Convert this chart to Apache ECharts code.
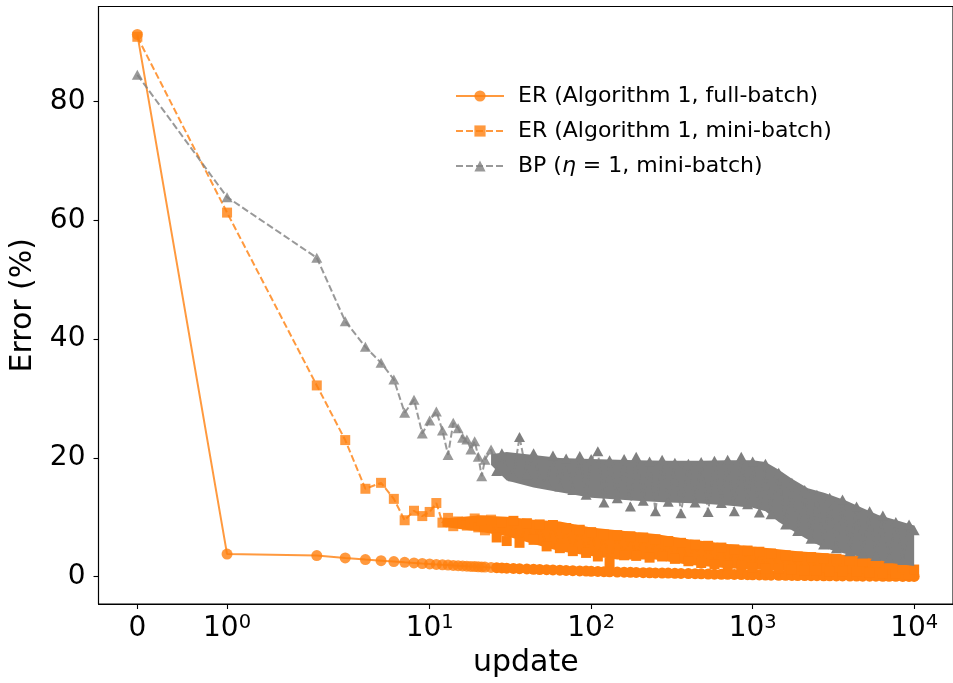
<!DOCTYPE html>
<html><head><meta charset="utf-8">
<script src="https://cdn.jsdelivr.net/npm/echarts@6/dist/echarts.min.js"></script>
<style>html,body{margin:0;padding:0;background:#fff}#c{width:953px;height:683px}</style>
</head><body><div id="c"></div>
<script>
// x values (update number), shared by the three series
const updates = [0,1,2,3,4,5,6,7,8,9,10,11,12,13,14,15,16,17,18,19,20,21,22,
  24,26,28,30,33,36,40,44,48,53,58,64,70,77,85,93,
  100,110,120,130,145,160,175,190,210,230,250,275,300,330,360,400,440,480,530,580,640,700,770,850,930,
  1000,1100,1200,1300,1450,1600,1750,1900,2100,2300,2500,2750,3000,3300,3600,4000,4400,4800,5300,5800,6400,7000,7700,8500,9300,
  10000];

const erFull = [91.3,3.8,3.55,3.15,2.88,2.7,2.55,2.42,2.32,2.22,2.14,2.07,2.0,1.95,1.9,1.85,1.81,1.77,1.73,1.7,1.67,1.64,1.61,
  1.56,1.52,1.48,1.44,1.39,1.35,1.3,1.25,1.21,1.17,1.13,1.09,1.05,1.01,0.97,0.94,
  0.91,0.88,0.85,0.82,0.79,0.76,0.73,0.71,0.68,0.66,0.64,0.62,0.6,0.57,0.55,0.52,0.5,0.48,0.45,0.43,0.41,0.39,0.37,0.35,0.33,
  0.31,0.29,0.28,0.26,0.24,0.23,0.21,0.2,0.18,0.17,0.16,0.15,0.14,0.13,0.12,0.11,0.1,0.09,0.08,0.08,0.07,0.06,0.06,0.05,0.05,
  0.04];

const erMini = [90.9,61.3,32.2,23.0,14.8,15.8,13.1,9.5,11.1,10.2,10.9,12.4,9.1,9.9,8.5,9.3,9.1,8.6,9.0,9.8,8.3,9.5,7.8,
  9.6,6.6,9.2,6.0,9.4,5.7,9.0,6.2,8.8,5.1,8.7,4.8,8.2,4.3,7.9,4.0,
  7.5,3.4,7.1,2.3,7.0,3.6,6.8,3.5,6.6,3.2,6.3,3.4,6.0,3.0,5.7,2.6,5.4,2.3,5.2,2.1,4.9,1.9,4.6,1.8,4.4,
  1.5,4.2,1.4,3.9,1.3,3.6,1.2,3.4,1.1,3.3,1.0,3.1,0.9,3.0,0.9,2.8,0.8,2.6,0.7,2.4,0.6,2.1,0.5,1.6,0.4,
  1.2];

const bpMini = [84.5,63.9,53.7,43.0,38.7,36.0,33.2,27.6,29.8,24.1,26.3,27.8,24.6,20.5,25.9,25.0,23.4,23.1,21.4,22.8,20.2,16.9,19.7,
  21.4,17.8,20.8,18.0,16.9,23.5,17.2,20.8,16.4,15.9,20.4,15.2,19.9,14.6,20.3,13.8,
  19.8,21.1,12.5,19.6,13.2,19.8,11.8,20.2,12.8,19.4,11.0,19.7,12.6,19.2,10.7,19.0,12.5,19.3,10.9,19.5,12.4,19.7,11.0,20.2,12.2,
  19.4,10.8,19.0,10.5,17.5,8.8,15.8,7.7,14.6,6.4,13.8,5.4,13.3,4.8,13.0,4.3,11.8,3.9,11.0,3.5,10.3,3.1,9.2,2.8,8.8,
  7.8];

// dense regions: outer envelope of the crowded markers
const miniBandX   = [12, 20, 30, 44, 64, 100, 145, 250, 400, 700, 1000, 1900, 3000, 4800, 7000, 10000];
const miniBandTop = [9.8, 10.3, 10.1, 9.6, 9.3, 8.3, 7.8, 7.2, 6.3, 5.5, 5.1, 4.3, 3.9, 3.4, 2.8, 2.0];
const miniBandBot = [8.4, 7.6, 6.8, 5.5, 4.3, 3.5, 2.9, 2.9, 2.0, 1.4, 1.2, 0.9, 0.7, 0.5, 0.4, 0.3];

const bpBandX   = [24, 30, 44, 64, 100, 190, 300, 480, 700, 1000, 1200, 1450, 1750, 2200, 2800, 3800, 4750, 6000, 7600, 10000];
const bpBandTop = [20.6, 21.0, 20.5, 20.0, 19.8, 19.6, 19.5, 19.5, 19.6, 19.6, 19.3, 18.0, 16.5, 14.9, 14.1, 12.8, 11.6, 10.4, 9.6, 8.6];
const bpBandBot = [18.8, 16.2, 15.0, 14.2, 13.3, 12.8, 12.5, 12.3, 12.0, 11.6, 11.0, 9.2, 7.8, 6.2, 4.8, 3.8, 3.3, 2.8, 2.2, 1.8];

const tickUpdates = [0, 1, 10, 100, 1000, 10000];
const tickBase = ['0', '10', '10', '10', '10', '10'];
const tickExp  = ['', '0', '1', '2', '3', '4'];
const yTicks = [0, 20, 40, 60, 80];

const nameFull = 'ER (Algorithm 1, full-batch)';
const nameMini = 'ER (Algorithm 1, mini-batch)';
const nameBP = 'BP (η = 1, mini-batch)';

// symmetric log transform (linthresh 2, linscale 1, base 10)
const LINTHRESH = 2, LINSCALE_ADJ = 1 / (1 - 1 / 10);
function symlog(x) {
  return x < LINTHRESH ? x * LINSCALE_ADJ / LINTHRESH : LINSCALE_ADJ + Math.log10(x / LINTHRESH);
}
const tickPos = tickUpdates.map(symlog);
const xMaxD = symlog(updates[updates.length - 1]);
const xPad = 0.05 * xMaxD;

// dense part of the run (overlapping markers look fully saturated)
const DENSE_FROM = 25;
function pairs(ys) {
  return updates.map((u, i) => u >= DENSE_FROM
    ? { value: [symlog(u), ys[i]], itemStyle: { opacity: 1 } }
    : { value: [symlog(u), ys[i]] });
}

function bandSeries(bx, top, bot, color, z) {
  return {
    type: 'custom', z: z, silent: true,
    data: bx.map((x, i) => [symlog(x), top[i], bot[i]]),
    encode: { x: 0, y: 1 },
    renderItem: function (params, api) {
      if (params.dataIndex !== 0) return null;
      const pts = [];
      for (let i = 0; i < bx.length; i++) pts.push(api.coord([symlog(bx[i]), top[i]]));
      for (let i = bx.length - 1; i >= 0; i--) pts.push(api.coord([symlog(bx[i]), bot[i]]));
      return { type: 'polygon', shape: { points: pts }, style: { fill: color } };
    }
  };
}

const FONT = 'DejaVu Sans';
const chart = echarts.init(document.getElementById('c'));
chart.setOption({
  animation: false,
  backgroundColor: '#fff',
  grid: { left: 98.5, right: -5, top: 6.5, bottom: 78.7, show: true, borderColor: '#000', borderWidth: 1.1 },
  xAxis: {
    type: 'value', min: -xPad, max: xMaxD + xPad,
    splitLine: { show: false },
    axisLine: { onZero: false, lineStyle: { color: '#000', width: 1.1 } },
    axisTick: { customValues: tickPos, length: 5, lineStyle: { color: '#000', width: 1.1 } },
    axisLabel: {
      customValues: tickPos, margin: 9,
      formatter: function (v) {
        let k = 0;
        for (let i = 0; i < tickPos.length; i++) if (Math.abs(tickPos[i] - v) < 1e-6) k = i;
        return tickExp[k] ? '{b|' + tickBase[k] + '}{s|' + tickExp[k] + '}' : '{b|' + tickBase[k] + '}';
      },
      rich: {
        b: { fontSize: 28, fontFamily: FONT, color: '#000', lineHeight: 32 },
        s: { fontSize: 19.5, fontFamily: FONT, color: '#000', lineHeight: 16, verticalAlign: 'top' }
      }
    },
    name: 'update', nameLocation: 'middle', nameGap: 44,
    nameTextStyle: { fontSize: 30, fontFamily: FONT, color: '#000' }
  },
  yAxis: {
    type: 'value', min: -4.6, max: 96.0,
    splitLine: { show: false },
    axisLine: { onZero: false, lineStyle: { color: '#000', width: 1.1 } },
    axisTick: { customValues: yTicks, length: 5, lineStyle: { color: '#000', width: 1.1 } },
    axisLabel: { customValues: yTicks, margin: 13, fontSize: 28, fontFamily: FONT, color: '#000' },
    name: 'Error (%)', nameLocation: 'middle', nameGap: 60,
    nameTextStyle: { fontSize: 30, fontFamily: FONT, color: '#000' }
  },
  legend: {
    orient: 'vertical', left: 450, top: 80, itemWidth: 48, itemHeight: 14, itemGap: 13,
    selectedMode: false,
    data: [nameFull, nameMini, nameBP],
    formatter: function (name) {
      if (name === nameBP) return '{n|BP (}{i|η}{n| = 1, mini-batch)}';
      return '{n|' + name + '}';
    },
    textStyle: {
      fontSize: 22, fontFamily: FONT, color: '#000', padding: [0, 0, 0, 9],
      rich: {
        n: { fontSize: 22, fontFamily: FONT, color: '#000' },
        i: { fontSize: 22, fontFamily: FONT, fontStyle: 'italic', color: '#000' }
      }
    }
  },
  series: [
    {
      name: nameFull, type: 'line', data: pairs(erFull), z: 2,
      symbol: 'circle', symbolSize: 11, showSymbol: true, showAllSymbol: true,
      lineStyle: { color: '#ff7f0e', width: 2, opacity: 0.8 },
      itemStyle: { color: '#ff7f0e', opacity: 0.8 },
      emphasis: { disabled: true }
    },
    bandSeries(miniBandX, miniBandTop, miniBandBot, '#ff7f0e', 3),
    {
      name: nameMini, type: 'line', data: pairs(erMini), z: 4,
      symbol: 'rect', symbolSize: 10, showSymbol: true, showAllSymbol: true,
      lineStyle: { color: '#ff7f0e', width: 2, type: [7, 3], opacity: 0.8 },
      itemStyle: { color: '#ff7f0e', opacity: 0.8 },
      emphasis: { disabled: true }
    },
    bandSeries(bpBandX, bpBandTop, bpBandBot, '#7f7f7f', 5),
    {
      name: nameBP, type: 'line', data: pairs(bpMini), z: 6,
      symbol: 'triangle', symbolSize: [11, 10], showSymbol: true, showAllSymbol: true,
      lineStyle: { color: '#7f7f7f', width: 2, type: [7, 3], opacity: 0.8 },
      itemStyle: { color: '#7f7f7f', opacity: 0.8 },
      emphasis: { disabled: true }
    }
  ]
});
</script></body></html>
